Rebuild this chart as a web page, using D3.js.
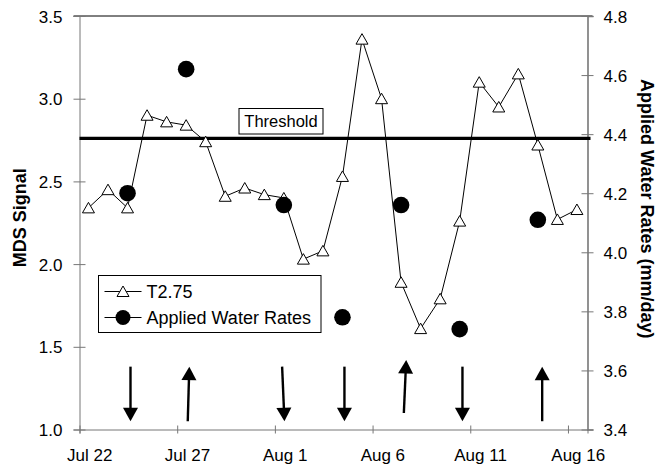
<!DOCTYPE html>
<html>
<head>
<meta charset="utf-8">
<script src="https://cdn.jsdelivr.net/npm/d3@7/dist/d3.min.js"></script>
<style>
  body { margin: 0; background: #fff; }
  text { font-family: Arial, "Liberation Sans", sans-serif; fill: #000; }
</style>
</head>
<body>
<svg width="659" height="468"></svg>
<script>
// daily MDS signal readings (T2.75)
const days = ["2002-07-22","2002-07-23","2002-07-24","2002-07-25","2002-07-26","2002-07-27",
  "2002-07-28","2002-07-29","2002-07-30","2002-07-31","2002-08-01","2002-08-02","2002-08-03",
  "2002-08-04","2002-08-05","2002-08-06","2002-08-07","2002-08-08","2002-08-09","2002-08-10",
  "2002-08-11","2002-08-12","2002-08-13","2002-08-14","2002-08-15","2002-08-16"];
const signal = [2.34, 2.45, 2.34, 2.90, 2.86, 2.84, 2.74, 2.41, 2.46, 2.42, 2.40, 2.03, 2.08,
  2.53, 3.36, 3.00, 1.89, 1.61, 1.79, 2.26, 3.10, 2.95, 3.15, 2.72, 2.27, 2.33];

// applied water rates (mm/day)
const waterDays = ["2002-07-24","2002-07-27","2002-08-01","2002-08-04","2002-08-07","2002-08-10","2002-08-14"];
const waterRates = [4.20, 4.62, 4.16, 3.78, 4.16, 3.74, 4.11];

const threshold = 2.76;

// arrows: day offset from Jul 22 (tail, tip) and signal value (tail, tip)
const arrowTailDay = [2.61, 5.54, 10.37, 13.56, 16.60, 19.60, 23.68];
const arrowTipDay  = [2.61, 5.62, 10.49, 13.56, 16.72, 19.60, 23.68];
const arrowTailVal = [1.38, 1.05, 1.38, 1.38, 1.10, 1.38, 1.05];
const arrowTipVal  = [1.05, 1.38, 1.05, 1.05, 1.42, 1.05, 1.38];

const dateTicks = ["2002-07-22","2002-07-27","2002-08-01","2002-08-06","2002-08-11","2002-08-16"];
const signalTicks = [1.0, 1.5, 2.0, 2.5, 3.0, 3.5];
const rateTicks = [3.4, 3.6, 3.8, 4.0, 4.2, 4.4, 4.6, 4.8];

const parse = d3.timeParse("%Y-%m-%d");
const start = parse("2002-07-22");
const atDay = d => new Date(start.getTime() + d * 864e5);
const mid = s => d3.timeHour.offset(parse(s), 11);

const [pLeft, pRight, pTop, pBottom] = [79.5, 587.5, 16, 429.5];

const x = d3.scaleTime().domain([start, parse("2002-08-17")]).range([pLeft, pRight]);
const y = d3.scaleLinear().domain([1, 3.5]).range([pBottom, pTop]);
const y2 = d3.scaleLinear().domain([3.4, 4.8]).range([pBottom, pTop]);
const halfDay = x(atDay(0.5)) - x(start);

const svg = d3.select('svg');
const grey = '#777';

// top border
svg.append('line')
  .attr('x1', pLeft - 6).attr('x2', pRight + 5)
  .attr('y1', pTop).attr('y2', pTop)
  .attr('stroke', '#000').attr('stroke-width', 1);

// left axis
const gy = svg.append('g')
  .attr('transform', `translate(${pLeft},0)`)
  .call(d3.axisLeft(y).tickValues(signalTicks).tickFormat(d3.format('.1f')).tickSize(6).tickPadding(11));
gy.select('.domain').attr('stroke', grey);
gy.selectAll('.tick line').attr('x2', 6).attr('x1', -6).attr('stroke', grey);
gy.selectAll('.tick text').attr('font-size', 17).attr('dy', '0.36em');

// right axis
const gy2 = svg.append('g')
  .attr('transform', `translate(${pRight},0)`)
  .call(d3.axisRight(y2).tickValues(rateTicks).tickFormat(d3.format('.1f')).tickSize(6).tickPadding(10));
gy2.select('.domain').attr('stroke', grey).attr('stroke-width', 1.6);
gy2.selectAll('.tick line').attr('x1', -6).attr('x2', 6).attr('stroke', grey);
gy2.selectAll('.tick text').attr('font-size', 17).attr('dy', '0.36em');

// bottom axis
const gx = svg.append('g')
  .attr('transform', `translate(0,${pBottom})`)
  .call(d3.axisBottom(x).tickValues(dateTicks.map(parse)).tickFormat(d3.timeFormat('%b %-d')).tickSize(4));
gx.select('.domain').attr('stroke', grey);
gx.selectAll('.tick line').attr('y1', -4).attr('y2', 4).attr('stroke', grey);
gx.selectAll('.tick text').attr('font-size', 17).attr('x', halfDay).attr('y', 31).attr('dy', 0);

// axis titles
svg.append('text')
  .attr('transform', `translate(26,${(pTop + pBottom) / 2 - 5}) rotate(-90)`)
  .attr('text-anchor', 'middle')
  .attr('font-size', 18).attr('font-weight', 'bold')
  .text('MDS Signal');
svg.append('text')
  .attr('transform', `translate(641,${(pTop + pBottom) / 2 - 14}) rotate(90)`)
  .attr('text-anchor', 'middle')
  .attr('font-size', 18).attr('font-weight', 'bold')
  .text('Applied Water Rates (mm/day)');

// threshold line
svg.append('line')
  .attr('x1', pLeft).attr('x2', pRight + 3)
  .attr('y1', y(threshold)).attr('y2', y(threshold))
  .attr('stroke', '#000').attr('stroke-width', 3.2);

// threshold label
const tl = svg.append('g').attr('transform', 'translate(239,108.5)');
tl.append('rect').attr('width', 84).attr('height', 25.5)
  .attr('fill', '#fff').attr('stroke', '#000').attr('stroke-width', 1);
tl.append('text').attr('x', 42).attr('y', 18.5).attr('text-anchor', 'middle')
  .attr('font-size', 16.5).text('Threshold');

// signal line + triangles
const pts = days.map((d, i) => ({date: mid(d), v: signal[i]}));
const tri = 'M0,-5.5L6,5L-6,5Z';

svg.append('path')
  .datum(pts)
  .attr('fill', 'none').attr('stroke', '#000').attr('stroke-width', 1)
  .attr('d', d3.line().x(d => x(d.date)).y(d => y(d.v)));

svg.selectAll('.tri')
  .data(pts)
  .enter()
  .append('path')
  .attr('class', 'tri')
  .attr('transform', d => `translate(${x(d.date)},${y(d.v)})`)
  .attr('d', tri)
  .attr('fill', '#fff').attr('stroke', '#000').attr('stroke-width', 1);

// water rates
svg.selectAll('.dot')
  .data(waterDays.map((d, i) => ({date: mid(d), v: waterRates[i]})))
  .enter()
  .append('circle')
  .attr('class', 'dot')
  .attr('cx', d => x(d.date)).attr('cy', d => y2(d.v))
  .attr('r', 8.3)
  .attr('fill', '#000');

// arrows
const arrows = arrowTailDay.map((d, i) => ({
  x0: x(atDay(d)), y0: y(arrowTailVal[i]),
  x1: x(atDay(arrowTipDay[i])), y1: y(arrowTipVal[i])
}));
const ag = svg.append('g');
arrows.forEach(a => {
  const len = Math.hypot(a.x1 - a.x0, a.y1 - a.y0);
  const ux = (a.x1 - a.x0) / len, uy = (a.y1 - a.y0) / len;
  const hl = 13.5, hw = 7.5;
  const bx = a.x1 - ux * hl, by = a.y1 - uy * hl;
  ag.append('line')
    .attr('x1', a.x0).attr('y1', a.y0).attr('x2', bx + ux).attr('y2', by + uy)
    .attr('stroke', '#000').attr('stroke-width', 2.4);
  ag.append('path')
    .attr('d', `M${a.x1},${a.y1}L${bx - uy * hw},${by + ux * hw}L${bx + uy * hw},${by - ux * hw}Z`)
    .attr('fill', '#000');
});

// legend
const lg = svg.append('g').attr('transform', 'translate(98.5,275.5)');
lg.append('rect').attr('width', 222.5).attr('height', 57)
  .attr('fill', '#fff').attr('stroke', '#000').attr('stroke-width', 1);
const rows = [{label: 'T2.75', y: 16}, {label: 'Applied Water Rates', y: 42}];
rows.forEach((r, i) => {
  lg.append('line').attr('x1', 6).attr('x2', 43).attr('y1', r.y).attr('y2', r.y)
    .attr('stroke', '#000').attr('stroke-width', 1);
  if (i === 0) {
    lg.append('path').attr('transform', `translate(24.5,${r.y})`).attr('d', tri)
      .attr('fill', '#fff').attr('stroke', '#000');
  } else {
    lg.append('circle').attr('cx', 24.5).attr('cy', r.y).attr('r', 7.5).attr('fill', '#000');
  }
  lg.append('text').attr('x', 48).attr('y', r.y).attr('dy', '0.36em')
    .attr('font-size', 18).text(r.label);
});
</script>
</body>
</html>
